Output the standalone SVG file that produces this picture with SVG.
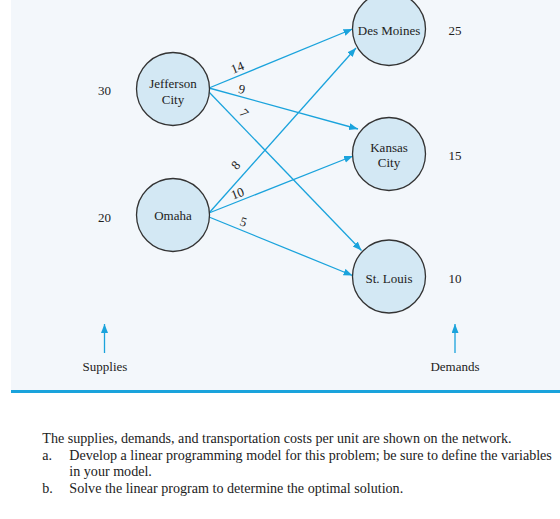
<svg xmlns="http://www.w3.org/2000/svg" width="560" height="519" viewBox="0 0 560 519">
<defs>
<marker id="ah" markerUnits="userSpaceOnUse" markerWidth="10" markerHeight="8" refX="9" refY="3.5" orient="auto">
<path d="M0,0 L9,3.5 L0,7 z" fill="#1aa3dc"/>
</marker>
<style>
.node{fill:#d3e8f4;stroke:#333;stroke-width:1.3}
.t{font-family:"Liberation Serif","Times New Roman",serif;font-size:13px;fill:#222;text-anchor:middle}
.e{stroke:#1aa3dc;stroke-width:1.3;fill:none;marker-end:url(#ah)}
.b{font-family:"Liberation Serif","Times New Roman",serif;font-size:14.1px;fill:#222}
</style>
</defs>
<rect x="0" y="0" width="560" height="519" fill="#ffffff"/>
<rect x="11" y="0" width="549" height="390" fill="#f3f7fb"/>
<line x1="11" y1="391.5" x2="560" y2="391.5" stroke="#1aa3dc" stroke-width="3"/>

<g id="connectors">
<line class="e" x1="209" y1="88" x2="352.5" y2="29"/>
<line class="e" x1="209" y1="88" x2="358" y2="129"/>
<line class="e" x1="208" y1="91" x2="361.5" y2="250.5"/>
<line class="e" x1="209" y1="213" x2="356" y2="48"/>
<line class="e" x1="209" y1="213" x2="353" y2="156"/>
<line class="e" x1="209" y1="217" x2="352.5" y2="275.5"/>
<line class="e" x1="104.5" y1="353" x2="104.5" y2="324"/>
<line class="e" x1="455" y1="353" x2="455" y2="324"/>
</g>

<g id="edge-labels">
<text class="t" transform="translate(239,71.5) rotate(-22)">14</text>
<text class="t" transform="translate(241,93.5) rotate(12)">9</text>
<text class="t" transform="translate(241,116) rotate(46)">7</text>
<text class="t" transform="translate(239,168) rotate(-48)">8</text>
<text class="t" transform="translate(239,197.5) rotate(-21)">10</text>
<text class="t" transform="translate(242,226) rotate(18)">5</text>
</g>

<g id="jefferson">
<circle class="node" cx="173" cy="89" r="36.5"/>
<text class="t" x="173" y="88">Jefferson</text>
<text class="t" x="173" y="103.5">City</text>
</g>
<g id="omaha">
<circle class="node" cx="173" cy="215" r="36.5"/>
<text class="t" x="173" y="220">Omaha</text>
</g>
<g id="desmoines">
<circle class="node" cx="389" cy="29" r="36.5"/>
<text class="t" x="389" y="35">Des Moines</text>
</g>
<g id="kansas">
<circle class="node" cx="389" cy="154" r="36.5"/>
<text class="t" x="389" y="151.5">Kansas</text>
<text class="t" x="389" y="166.5">City</text>
</g>
<g id="stlouis">
<circle class="node" cx="389" cy="276.5" r="36.5"/>
<text class="t" x="389" y="283">St. Louis</text>
</g>

<g id="quantities">
<text class="t" x="104.5" y="95">30</text>
<text class="t" x="104.5" y="222">20</text>
<text class="t" x="455" y="35">25</text>
<text class="t" x="455" y="159.5">15</text>
<text class="t" x="455" y="283">10</text>
<text class="t" x="105" y="371">Supplies</text>
<text class="t" x="455" y="371">Demands</text>
</g>

<g id="caption">
<text class="b" x="42.3" y="443">The supplies, demands, and transportation costs per unit are shown on the network.</text>
<text class="b" x="42.3" y="460">a.</text>
<text class="b" x="69.3" y="460">Develop a linear programming model for this problem; be sure to define the variables</text>
<text class="b" x="69.3" y="476">in your model.</text>
<text class="b" x="42.3" y="493">b.</text>
<text class="b" x="69.3" y="493">Solve the linear program to determine the optimal solution.</text>
</g>
</svg>
